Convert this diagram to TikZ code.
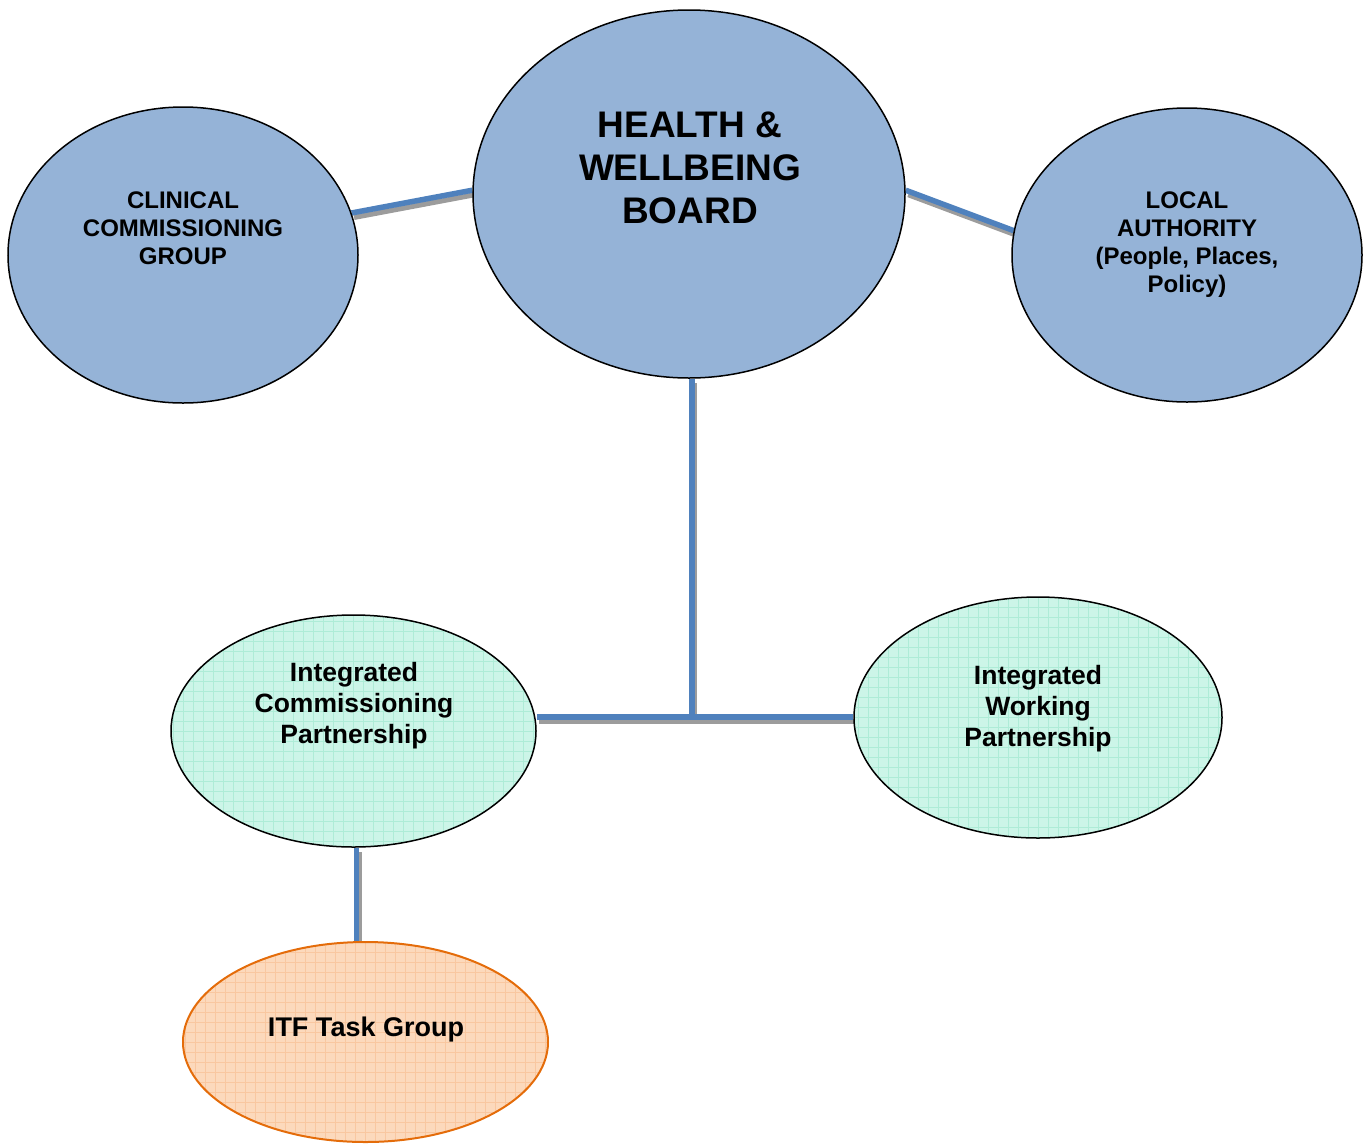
\documentclass[tikz,border=0pt]{standalone}
\usepackage{fontspec}
\setmainfont{Liberation Sans}
\usetikzlibrary{shapes.geometric,backgrounds}
\definecolor{bluefill}{HTML}{95B3D7}
\definecolor{greenfill}{HTML}{CCF5E8}
\definecolor{greengrid}{HTML}{AEECD7}
\definecolor{orangefill}{HTML}{FCD9BC}
\definecolor{orangegrid}{HTML}{F9C7A0}
\definecolor{orangeline}{HTML}{E46C0A}
\definecolor{connblue}{HTML}{4F81BD}
\definecolor{shadowgray}{HTML}{9C9C9C}
\tikzset{
  oval/.style={ellipse, draw=black, line width=1.5pt, inner sep=0pt},
  bluebox/.style={oval, fill=bluefill},
  gridfill/.style={path picture={\draw[#1, line width=0.8pt]
      (path picture bounding box.south west) grid[step=10pt] (path picture bounding box.north east);}},
  greenbox/.style={oval, fill=greenfill, gridfill=greengrid},
  orangebox/.style={oval, draw=orangeline, line width=2pt, fill=orangefill, gridfill=orangegrid},
  conn/.style={draw=connblue, line width=5.5pt,
    preaction={draw=shadowgray, line width=5pt, transform canvas={shift={(2.5pt,-4.5pt)}}}},
  lbl/.style={align=center, font=\bfseries, inner sep=0pt},
}
\begin{document}
\begin{tikzpicture}[x=1pt,y=-1pt]
\useasboundingbox (0,0) rectangle (1368,1144);
% ellipses
\node[bluebox, minimum width=350pt, minimum height=296pt] (ccg) at (183,255) {};
\node[bluebox, minimum width=432pt, minimum height=368pt] (hwb) at (689,194) {};
\node[bluebox, minimum width=350pt, minimum height=294pt] (la) at (1187,255) {};
\node[greenbox, minimum width=365pt, minimum height=232pt] (icp) at (353.5,731) {};
\node[greenbox, minimum width=368pt, minimum height=241pt] (iwp) at (1038,717.5) {};
\node[orangebox, minimum width=365pt, minimum height=200pt] (itf) at (365.5,1042) {};
% labels
\node[lbl, font=\bfseries\fontsize{24}{28}\selectfont] (ccgt) at (183,228) {CLINICAL\\COMMISSIONING\\GROUP};
\node[lbl, font=\bfseries\fontsize{37}{43}\selectfont] (hwbt) at (690,168) {HEALTH \&\\WELLBEING\\BOARD};
\node[lbl, font=\bfseries\fontsize{24}{28}\selectfont] (lat) at (1187,245) {LOCAL\\AUTHORITY\\(People, Places,\\Policy)};
\node[lbl, font=\bfseries\fontsize{26.5}{31}\selectfont] (icpt) at (354,706) {Integrated\\Commissioning\\Partnership};
\node[lbl, font=\bfseries\fontsize{26.5}{31}\selectfont] (iwpt) at (1038,709) {Integrated\\Working\\Partnership};
\node[lbl, font=\bfseries\fontsize{27}{31}\selectfont] (itft) at (366,1030) {ITF Task Group};
% connectors
\coordinate (junc) at (692,717);
\begin{scope}[on background layer]
\draw[conn] (ccg.14) -- (hwb.179);
\draw[conn] (hwb.1) -- (la.172);
\draw[conn] (hwb.south -| junc) -- (junc);
\draw[conn] (icp.east |- junc) -- (iwp.west |- junc);
\draw[conn] ([xshift=3pt]icp.south) -- ([xshift=3pt]icp.south |- itf.north);
\end{scope}
\end{tikzpicture}
\end{document}
